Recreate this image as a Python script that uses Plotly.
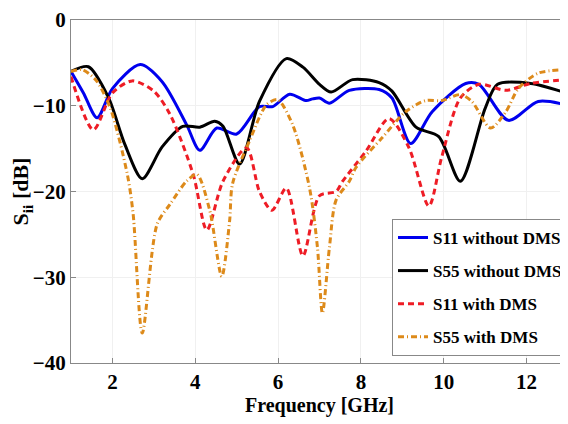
import plotly.graph_objects as go

f_s11_wo = [1.0, 1.3, 1.63, 2.0, 2.67, 3.2, 3.79, 4.11, 4.52, 5.0, 5.55, 5.87, 6.28, 6.68, 6.83, 7.0, 7.24, 7.72, 8.44, 8.75, 9.2, 9.72, 10.53, 10.85, 11.56, 12.28, 12.95]
s11_wo = [-6.0, -8.5, -11.4, -8.0, -5.2, -7.2, -12.2, -15.2, -12.6, -13.3, -10.1, -10.1, -8.65, -9.4, -9.2, -9.1, -9.7, -8.2, -8.1, -9.1, -14.4, -10.7, -7.4, -7.5, -11.7, -9.5, -9.9]

f_s55_wo = [1.0, 1.42, 1.9, 2.3, 2.72, 3.2, 3.7, 4.11, 4.47, 4.67, 5.07, 5.55, 6.2, 6.6, 7.0, 7.28, 7.8, 8.44, 8.75, 9.33, 9.88, 10.4, 11.0, 11.3, 12.1, 12.95]
s55_wo = [-6.0, -5.45, -9.0, -14.5, -18.5, -14.8, -12.4, -12.5, -11.8, -12.4, -16.8, -9.5, -4.5, -5.5, -7.5, -8.4, -6.95, -7.3, -8.3, -12.5, -13.6, -18.8, -10.3, -7.5, -7.4, -8.5]

f_s11_w = [1.0, 1.54, 2.0, 2.48, 3.0, 3.39, 3.95, 4.28, 4.67, 5.24, 5.55, 5.85, 6.2, 6.6, 7.0, 7.4, 7.56, 8.12, 8.68, 9.16, 9.64, 9.95, 10.4, 10.85, 11.5, 12.1, 12.95]
s11_w = [-6.6, -12.8, -8.5, -7.1, -8.3, -11.0, -18.0, -24.5, -18.8, -14.9, -20.0, -22.2, -19.6, -27.5, -20.5, -20.0, -18.8, -15.3, -11.5, -14.9, -21.7, -16.0, -9.1, -7.5, -8.2, -7.4, -6.95]

f_s55_w = [1.0, 1.27, 1.6, 1.95, 2.36, 2.5, 2.72, 3.08, 3.39, 3.79, 4.04, 4.35, 4.64, 4.83, 4.9, 5.31, 5.72, 5.99, 6.35, 6.76, 6.95, 7.07, 7.24, 7.4, 7.72, 7.88, 8.5, 9.08, 9.56, 9.95, 10.4, 10.68, 11.13, 11.5, 11.8, 12.28, 12.95]
s55_w = [-6.0, -5.8, -7.0, -10.3, -18.0, -22.6, -36.5, -23.8, -21.5, -18.8, -18.0, -22.2, -29.9, -23.4, -19.1, -14.1, -9.9, -9.3, -12.2, -19.6, -26.5, -34.2, -26.5, -21.0, -18.8, -17.2, -13.8, -10.7, -9.4, -9.4, -8.7, -9.5, -12.6, -10.7, -8.0, -6.2, -5.8]

x_ticks = [2, 4, 6, 8, 10, 12]
y_ticks = [0, -10, -20, -30, -40]
y_tick_labels = ["0", "\u221210", "\u221220", "\u221230", "\u221240"]

fig = go.Figure()
fig.add_trace(go.Scatter(x=f_s11_wo, y=s11_wo, mode="lines", name="S11 without DMS", legendgroup="a",
                         line=dict(color="#0000EE", width=3, shape="spline", smoothing=0.8)))
fig.add_trace(go.Scatter(x=f_s55_wo, y=s55_wo, mode="lines", name="S55 without DMS", legendgroup="b",
                         line=dict(color="#000000", width=3, shape="spline", smoothing=0.8)))
fig.add_trace(go.Scatter(x=f_s11_w, y=s11_w, mode="lines", name="S11 with DMS", legendgroup="c",
                         line=dict(color="#EE1C25", width=3, dash="6px,4px", shape="spline", smoothing=0.8)))
fig.add_trace(go.Scatter(x=f_s55_w, y=s55_w, mode="lines", name="S55 with DMS", legendgroup="d",
                         line=dict(color="#DD8A1A", width=3, dash="6px,3px,1px,3px", shape="spline", smoothing=0.8)))

font_family = "Liberation Serif"
fig.update_layout(
    width=560, height=416,
    margin=dict(l=63, r=0, t=12, b=61, autoexpand=False),
    paper_bgcolor="white", plot_bgcolor="white",
    font=dict(family=font_family, color="black"),
    showlegend=True,
    legend=dict(x=1.0, y=0.42, xanchor="right", yanchor="top",
                bgcolor="white", bordercolor="#888888", borderwidth=1,
                font=dict(family=font_family, size=17, color="black", weight="bold"),
                itemwidth=30, tracegroupgap=8),
)
fig.update_xaxes(range=[1, 13], tickvals=x_ticks, ticktext=[str(v) for v in x_ticks],
                 ticks="inside", ticklen=5, tickcolor="#888888",
                 showline=True, linecolor="#888888", linewidth=1, mirror=True,
                 showgrid=True, gridcolor="#F0F0F0", zeroline=False,
                 ticklabeloverflow="allow",
                 tickfont=dict(family=font_family, size=21, color="black", weight="bold"),
                 title=dict(text="Frequency [GHz]", standoff=2,
                            font=dict(family=font_family, size=20, color="black", weight="bold")))
fig.update_yaxes(range=[-40, 0], tickvals=y_ticks, ticktext=y_tick_labels,
                 ticks="inside", ticklen=5, tickcolor="#888888",
                 showline=True, linecolor="#888888", linewidth=1,
                 showgrid=True, gridcolor="#F0F0F0", zeroline=False,
                 ticklabeloverflow="allow",
                 tickfont=dict(family=font_family, size=21, color="black", weight="bold"),
                 title=dict(text="S<sub>ii</sub> [dB]", standoff=6,
                            font=dict(family=font_family, size=22, color="black", weight="bold")))

fig.write_html("out.html")
